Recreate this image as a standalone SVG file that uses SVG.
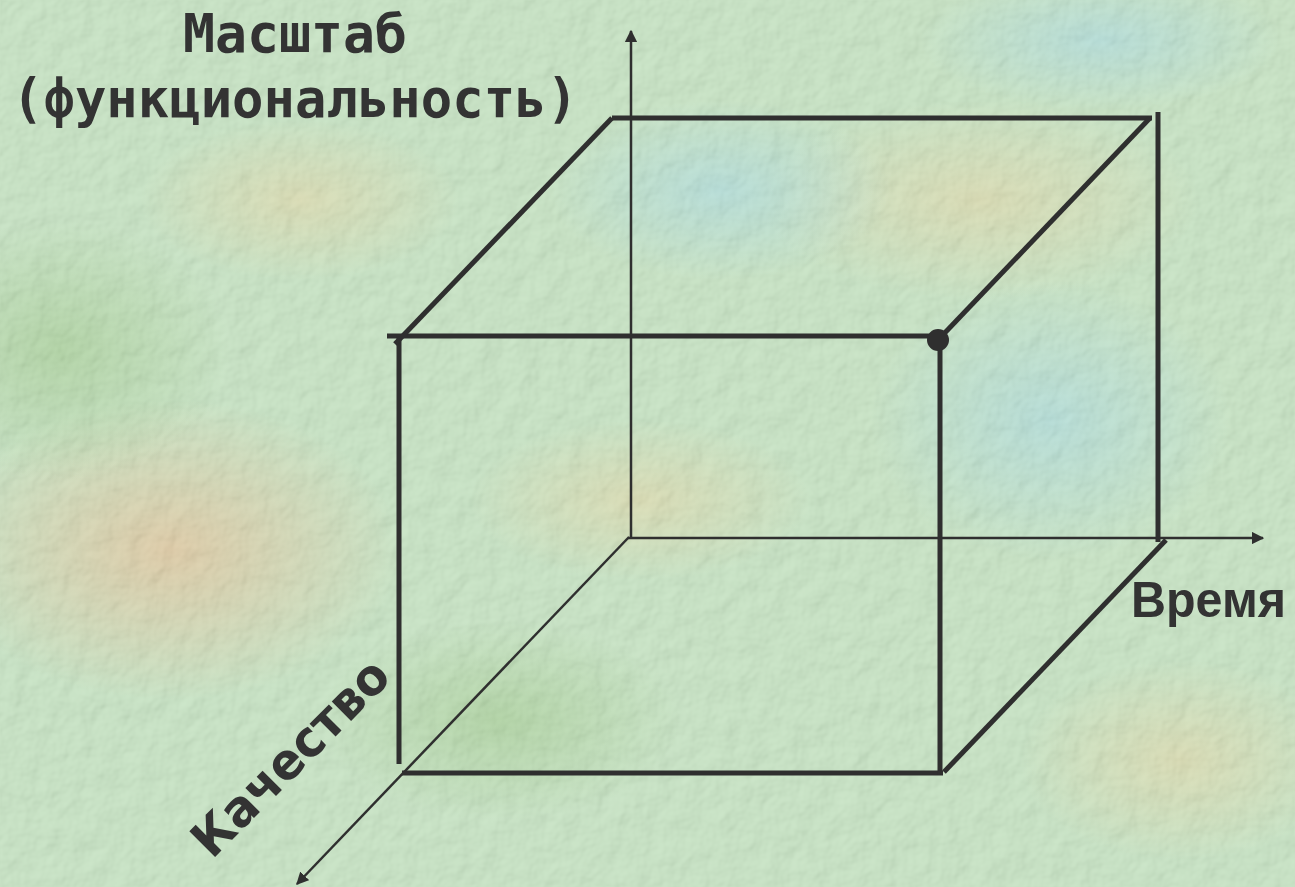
<svg xmlns="http://www.w3.org/2000/svg" width="1295" height="887" viewBox="0 0 1295 887">
  <defs>
    <style>
      .edge { stroke: #2f2f2f; stroke-width: 5; fill: none; stroke-linecap: butt; }
      .axis { stroke: #2f2f2f; stroke-width: 2.5; fill: none; }
      .mono { font-family: "DejaVu Sans Mono", "Liberation Mono", monospace; font-weight: bold; font-size: 54px; fill: #333333; }
      .sans { font-family: "DejaVu Sans", "Liberation Sans", sans-serif; font-weight: bold; font-size: 50px; fill: #333333; }
      .narrow { font-family: "Liberation Sans", "DejaVu Sans", sans-serif; font-weight: bold; font-size: 50px; fill: #333333; }
    </style>
    <marker id="arrow" viewBox="0 0 10 10" refX="9" refY="5" markerWidth="5" markerHeight="5" markerUnits="strokeWidth" orient="auto">
      <path d="M0,0 L10,5 L0,10 z" fill="#2f2f2f"/>
    </marker>
    <radialGradient id="blotchOrange" cx="0.5" cy="0.5" r="0.5">
      <stop offset="0" stop-color="#dcc296" stop-opacity="0.95"/>
      <stop offset="1" stop-color="#dcc296" stop-opacity="0"/>
    </radialGradient>
    <radialGradient id="blotchYellow" cx="0.5" cy="0.5" r="0.5">
      <stop offset="0" stop-color="#d8d6a4" stop-opacity="0.85"/>
      <stop offset="1" stop-color="#d8d6a4" stop-opacity="0"/>
    </radialGradient>
    <radialGradient id="blotchBlue" cx="0.5" cy="0.5" r="0.5">
      <stop offset="0" stop-color="#a6d8d6" stop-opacity="0.85"/>
      <stop offset="1" stop-color="#a6d8d6" stop-opacity="0"/>
    </radialGradient>
    <radialGradient id="blotchGreen" cx="0.5" cy="0.5" r="0.5">
      <stop offset="0" stop-color="#a2cc92" stop-opacity="0.9"/>
      <stop offset="1" stop-color="#a2cc92" stop-opacity="0"/>
    </radialGradient>
    <filter id="texture" x="0" y="0" width="100%" height="100%">
      <feTurbulence type="fractalNoise" baseFrequency="0.045" numOctaves="3" seed="4" result="noise"/>
      <feDiffuseLighting in="noise" surfaceScale="3" lighting-color="#ffffff" result="lit">
        <feDistantLight azimuth="225" elevation="50"/>
      </feDiffuseLighting>
    </filter>
  </defs>

  <g id="background">
    <rect width="1295" height="887" fill="#bfe0bb"/>
    <ellipse cx="170" cy="550" rx="230" ry="150" fill="url(#blotchOrange)"/>
    <ellipse cx="60" cy="350" rx="170" ry="130" fill="url(#blotchGreen)"/>
    <ellipse cx="980" cy="200" rx="220" ry="100" fill="url(#blotchYellow)"/>
    <ellipse cx="720" cy="190" rx="170" ry="90" fill="url(#blotchBlue)"/>
    <ellipse cx="640" cy="500" rx="170" ry="80" fill="url(#blotchYellow)"/>
    <ellipse cx="1050" cy="420" rx="180" ry="140" fill="url(#blotchBlue)"/>
    <ellipse cx="500" cy="720" rx="180" ry="100" fill="url(#blotchGreen)"/>
    <ellipse cx="1180" cy="760" rx="160" ry="100" fill="url(#blotchYellow)"/>
    <ellipse cx="1100" cy="40" rx="180" ry="70" fill="url(#blotchBlue)"/>
    <ellipse cx="300" cy="200" rx="160" ry="80" fill="url(#blotchYellow)"/>
    <rect width="1295" height="887" filter="url(#texture)" opacity="0.22"/>
  </g>

  <g id="connectors">
    <line class="axis" x1="631" y1="537" x2="631" y2="31" marker-end="url(#arrow)"/>
    <line class="axis" x1="628" y1="538" x2="1263" y2="538" marker-end="url(#arrow)"/>
    <line class="axis" x1="629" y1="537" x2="297" y2="884" marker-end="url(#arrow)"/>
  </g>

  <g id="cube">
    <line class="edge" x1="612" y1="118" x2="1152" y2="118"/>
    <line class="edge" x1="1158" y1="112" x2="1158" y2="542"/>
    <line class="edge" x1="387" y1="336" x2="930" y2="336"/>
    <line class="edge" x1="399" y1="336" x2="399" y2="764"/>
    <line class="edge" x1="402" y1="773" x2="943" y2="773"/>
    <line class="edge" x1="940" y1="340" x2="940" y2="775"/>
    <line class="edge" x1="395" y1="344" x2="612" y2="118"/>
    <line class="edge" x1="938" y1="340" x2="1150" y2="118"/>
    <line class="edge" x1="944" y1="772" x2="1166" y2="540"/>
    <circle cx="938" cy="340" r="11" fill="#2f2f2f"/>
  </g>

  <g id="label-scale">
    <text class="mono" x="295" y="52" text-anchor="middle" textLength="224" lengthAdjust="spacingAndGlyphs">Масштаб</text>
    <text class="mono" x="295" y="117" text-anchor="middle" textLength="566" lengthAdjust="spacingAndGlyphs">(функциональность)</text>
  </g>

  <g id="label-time">
    <text class="narrow" x="1131" y="617" textLength="155" lengthAdjust="spacingAndGlyphs">Время</text>
  </g>

  <g id="label-quality">
    <text class="sans" transform="translate(212,860) rotate(-45)" x="0" y="0" textLength="256" lengthAdjust="spacingAndGlyphs">Качество</text>
  </g>
</svg>
